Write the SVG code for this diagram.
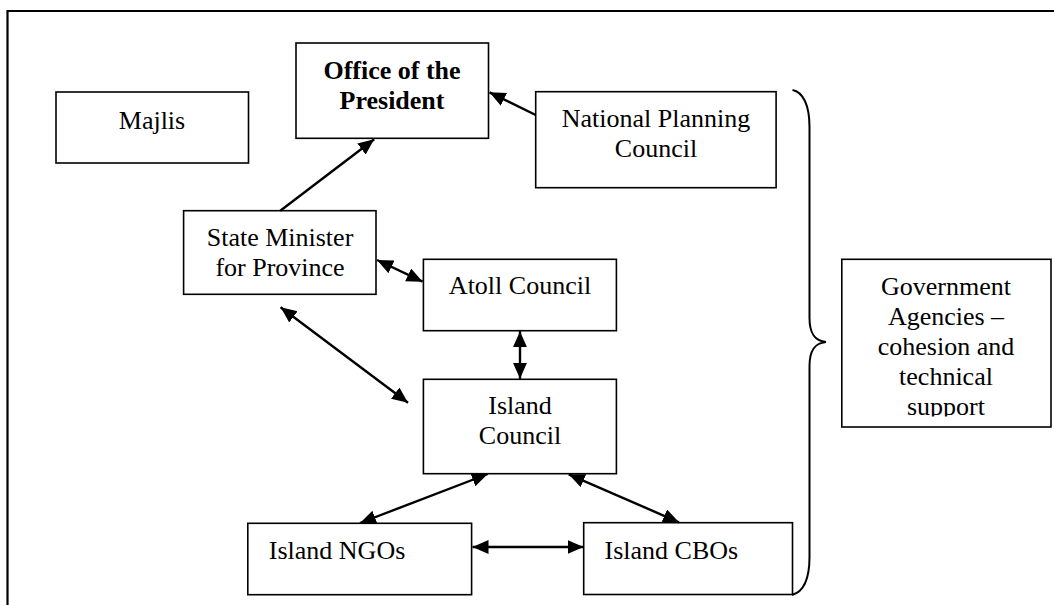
<svg xmlns="http://www.w3.org/2000/svg" width="1054" height="605" viewBox="0 0 1054 605">
  <style>
    .box { fill: #fff; stroke: #000; stroke-width: 1.6; }
    .t { font-family: "Liberation Serif", "Times New Roman", Times, "DejaVu Serif", serif; font-size: 26px; fill: #000; }
    .c { text-anchor: middle; }
    .b { font-weight: bold; }
    .link { stroke: #000; stroke-width: 2.4; fill: none; }
    .frame { stroke: #000; stroke-width: 2.2; fill: none; }
  </style>
  <defs>
    <marker id="head" markerUnits="userSpaceOnUse" markerWidth="17" markerHeight="15" refX="16" refY="7" orient="auto-start-reverse">
      <path d="M0,0 L16,7 L0,14 z" fill="#000"/>
    </marker>
    <clipPath id="govClip">
      <rect x="842" y="260" width="209" height="156.5"/>
    </clipPath>
  </defs>

  <rect width="1054" height="605" fill="#fff"/>

  <!-- page frame (open to the right and bottom) -->
  <path class="frame" d="M7.5,605 L7.5,11 L1054,11"/>

  <g id="majlis">
    <rect class="box" x="56" y="92" width="192.5" height="71"/>
    <text class="t c" x="152" y="129">Majlis</text>
  </g>

  <g id="office-president">
    <rect class="box" x="296" y="43" width="192.5" height="95.3"/>
    <text class="t c b" x="392" y="79">Office of the</text>
    <text class="t c b" x="392" y="109.3">President</text>
  </g>

  <g id="national-planning-council">
    <rect class="box" x="535.7" y="91.7" width="240.4" height="96"/>
    <text class="t c" x="656" y="126.7">National Planning</text>
    <text class="t c" x="656" y="156.7">Council</text>
  </g>

  <g id="state-minister">
    <rect class="box" x="183.6" y="210.7" width="192.4" height="83.6"/>
    <text class="t c" x="280" y="246">State Minister</text>
    <text class="t c" x="280" y="276">for Province</text>
  </g>

  <g id="atoll-council">
    <rect class="box" x="423.4" y="259.3" width="193" height="71.4"/>
    <text class="t c" x="520" y="294.3">Atoll Council</text>
  </g>

  <g id="island-council">
    <rect class="box" x="423.4" y="379.3" width="193" height="94.4"/>
    <text class="t c" x="520" y="414.3">Island</text>
    <text class="t c" x="520" y="444">Council</text>
  </g>

  <g id="island-ngos">
    <rect class="box" x="247.8" y="523.3" width="223.8" height="71.4"/>
    <text class="t" x="268.8" y="558.5">Island NGOs</text>
  </g>

  <g id="island-cbos">
    <rect class="box" x="583.7" y="522.7" width="208.8" height="71.8"/>
    <text class="t" x="604.5" y="558.5">Island CBOs</text>
  </g>

  <g id="government-agencies">
    <rect class="box" x="841.8" y="259.3" width="209.2" height="167.7"/>
    <g clip-path="url(#govClip)">
      <text class="t c" x="946" y="295">Government</text>
      <text class="t c" x="946" y="324.5">Agencies –</text>
      <text class="t c" x="946" y="354.5">cohesion and</text>
      <text class="t c" x="946" y="385">technical</text>
      <text class="t c" x="946" y="415">support</text>
    </g>
  </g>

  <!-- curly brace grouping the local bodies -->
  <g id="brace">
    <path d="M792.5,90 C803,92 809.5,105 809.5,127 L809.5,318 C809.5,334 815,341 826,342 C815,343 809.5,350 809.5,366 L809.5,557 C809.5,580 803,592 792,595" fill="none" stroke="#000" stroke-width="2"/>
  </g>

  <g id="connectors">
    <line class="link" x1="280.3" y1="210.7" x2="374.2" y2="139.3" marker-end="url(#head)"/>
    <line class="link" x1="535.7" y1="115" x2="489.5" y2="92.3" marker-end="url(#head)"/>
    <line class="link" x1="377" y1="260" x2="422.6" y2="281.7" marker-start="url(#head)" marker-end="url(#head)"/>
    <line class="link" x1="280.6" y1="307.3" x2="408" y2="402.7" marker-start="url(#head)" marker-end="url(#head)"/>
    <line class="link" x1="520" y1="331.2" x2="520" y2="378.8" marker-start="url(#head)" marker-end="url(#head)"/>
    <line class="link" x1="487.8" y1="474" x2="360" y2="523" marker-start="url(#head)" marker-end="url(#head)"/>
    <line class="link" x1="568.7" y1="474.3" x2="679" y2="522.3" marker-start="url(#head)" marker-end="url(#head)"/>
    <line class="link" x1="472.5" y1="547" x2="583.5" y2="547" marker-start="url(#head)" marker-end="url(#head)"/>
  </g>
</svg>
